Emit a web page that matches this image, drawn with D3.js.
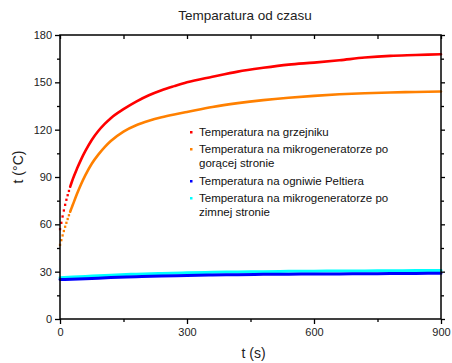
<!DOCTYPE html>
<html>
<head>
<meta charset="utf-8">
<script src="https://cdn.jsdelivr.net/npm/d3@7"></script>
<style>
  body { margin: 0; background: #fff; }
  svg { display: block; font-family: "Liberation Sans", Arial, sans-serif; }
</style>
</head>
<body>
<div id="chart"></div>
<script>
// Readings taken off the original plot (time in s, temperature in °C)
const times = [0, 3, 6, 9, 12, 15, 18, 21, 24, 27, 30, 40, 50, 60, 75, 90, 105, 120, 150, 180, 210, 240, 270, 300, 360, 420, 480, 540, 600, 660, 720, 780, 840, 900];
const heaterTemp = [57, 61, 65, 68.8, 72.4, 75.6, 78.5, 81.2, 83.8, 86.2, 88.5, 95.2, 101.2, 106.5, 113.5, 119, 123.5, 127.3, 133, 137.8, 141.8, 145, 147.6, 150, 153.5, 156.8, 159.2, 161.2, 162.5, 164, 165.7, 166.8, 167.3, 167.8];
const hotSideTemp = [47, 50, 53, 55.8, 58.5, 61, 63.4, 65.8, 68, 70.1, 72.2, 79.2, 85.6, 91.2, 98.4, 104, 108.8, 112.8, 118.8, 122.8, 125.6, 127.8, 129.6, 131.2, 134.4, 136.8, 138.7, 140.2, 141.4, 142.4, 143.1, 143.6, 143.9, 144.2];

const lowTimes = [0, 60, 120, 180, 240, 300, 360, 420, 480, 540, 600, 660, 720, 780, 840, 900];
const peltierTemp = [25, 25.5, 26.3, 26.8, 27.3, 27.6, 27.9, 28.1, 28.3, 28.4, 28.5, 28.6, 28.7, 28.8, 28.9, 29];
const coldSideTemp = [26.2, 27, 27.8, 28.4, 28.9, 29.3, 29.6, 29.8, 30, 30.2, 30.3, 30.4, 30.5, 30.6, 30.7, 30.8];

const xTicks = [0, 300, 600, 900];
const yTicks = [0, 30, 60, 90, 120, 150, 180];

const legendLines = [
    ["Temperatura na grzejniku"],
    ["Temperatura na mikrogeneratorze po", "gorącej stronie"],
    ["Temperatura na ogniwie Peltiera"],
    ["Temperatura na mikrogeneratorze po", "zimnej stronie"]
];

const series = [
    { t: times, v: heaterTemp, color: "#ff0000" },
    { t: times, v: hotSideTemp, color: "#ff8000" },
    { t: lowTimes, v: coldSideTemp, color: "#00ffff" },
    { t: lowTimes, v: peltierTemp, color: "#0000ff" }
];

const margin = { top: 35, right: 11, bottom: 44, left: 60 };
const W = 452, H = 363;
const width = W - margin.left - margin.right;
const height = H - margin.top - margin.bottom;

const svg = d3.select("#chart").append("svg")
    .attr("width", W)
    .attr("height", H);

const g = svg.append("g")
    .attr("transform", `translate(${margin.left},${margin.top})`);

const x = d3.scaleLinear().domain([0, 900]).range([0, width]);
const y = d3.scaleLinear().domain([0, 180]).range([height, 0]);

// Title
svg.append("text")
    .attr("x", 245)
    .attr("y", 20)
    .attr("text-anchor", "middle")
    .style("font-size", "13.5px")
    .style("fill", "#222")
    .text("Temparatura od czasu");

// Series: separate dots while readings are sparse, a thick curve once they get dense
const line = d3.line()
    .x(d => x(d[0]))
    .y(d => y(d[1]))
    .curve(d3.curveMonotoneX);

series.forEach(s => {
    const pts = s.t.map((t, i) => [t, s.v[i]]);
    const hot = s.t === times;
    const dense = hot ? pts.filter(d => d[0] >= 24) : pts;
    g.append("path")
        .datum(dense)
        .attr("d", line)
        .attr("fill", "none")
        .attr("stroke", s.color)
        .attr("stroke-linecap", "round")
        .attr("stroke-width", hot ? 2.6 : 3);
    g.selectAll(null)
        .data(hot ? pts.filter(d => d[0] < 24) : [])
        .enter().append("rect")
        .attr("x", d => x(d[0]) - 1.1)
        .attr("y", d => y(d[1]) - 1.1)
        .attr("width", 2.3)
        .attr("height", 2.3)
        .attr("fill", s.color);
});

// Axes: bottom / left / right ticks outside, top inside
const axisStyle = sel => {
    sel.select(".domain").remove();
    sel.selectAll("line").attr("stroke", "#000").attr("stroke-width", 1.3);
    sel.selectAll("text").style("font-size", "11px").style("fill", "#222");
};

g.append("g")
    .attr("transform", `translate(0,${height})`)
    .call(d3.axisBottom(x).tickValues(xTicks).tickSize(5).tickPadding(4))
    .call(axisStyle);
g.append("g")
    .attr("transform", `translate(0,${height})`)
    .call(d3.axisBottom(x).tickValues([150, 450, 750]).tickSize(3).tickFormat(""))
    .call(axisStyle);

g.append("g")
    .call(d3.axisLeft(y).tickValues(yTicks).tickSize(5).tickPadding(3))
    .call(axisStyle);
g.append("g")
    .call(d3.axisLeft(y).tickValues([15, 45, 75, 105, 135, 165]).tickSize(3).tickFormat(""))
    .call(axisStyle);

g.append("g")
    .attr("transform", `translate(${width},0)`)
    .call(d3.axisRight(y).tickValues(yTicks).tickSize(4).tickFormat(""))
    .call(axisStyle);
g.append("g")
    .attr("transform", `translate(${width},0)`)
    .call(d3.axisRight(y).tickValues([15, 45, 75, 105, 135, 165]).tickSize(3).tickFormat(""))
    .call(axisStyle);

g.append("g")
    .call(d3.axisBottom(x).tickValues(d3.range(0, 901, 150)).tickSize(4).tickFormat(""))
    .call(axisStyle);

// Frame
g.append("rect")
    .attr("width", width)
    .attr("height", height)
    .attr("fill", "none")
    .attr("stroke", "#000")
    .attr("stroke-width", 1.5);

// Axis titles
svg.append("text")
    .attr("x", margin.left + x(450) + 3)
    .attr("y", 358)
    .attr("text-anchor", "middle")
    .style("font-size", "14px")
    .style("fill", "#222")
    .text("t (s)");

svg.append("text")
    .attr("transform", "translate(23,167) rotate(-90)")
    .attr("text-anchor", "middle")
    .style("font-size", "14px")
    .style("fill", "#222")
    .text("t (°C)");

// Legend
const legend = svg.append("g").attr("transform", "translate(191,0)");
const legendItems = [
    { lines: legendLines[0], color: "#ff0000", y: 136 },
    { lines: legendLines[1], color: "#ff8000", y: 153 },
    { lines: legendLines[2], color: "#0000ff", y: 185 },
    { lines: legendLines[3], color: "#00ffff", y: 202 }
];
legendItems.forEach(item => {
    legend.append("rect")
        .attr("x", -1)
        .attr("y", item.y - 5)
        .attr("width", 2.5)
        .attr("height", 2.5)
        .attr("fill", item.color);
    item.lines.forEach((txt, i) => {
        legend.append("text")
            .attr("x", 8)
            .attr("y", item.y + i * 14)
            .style("font-size", "11.5px")
            .style("fill", "#111")
            .text(txt);
    });
});
</script>
</body>
</html>
